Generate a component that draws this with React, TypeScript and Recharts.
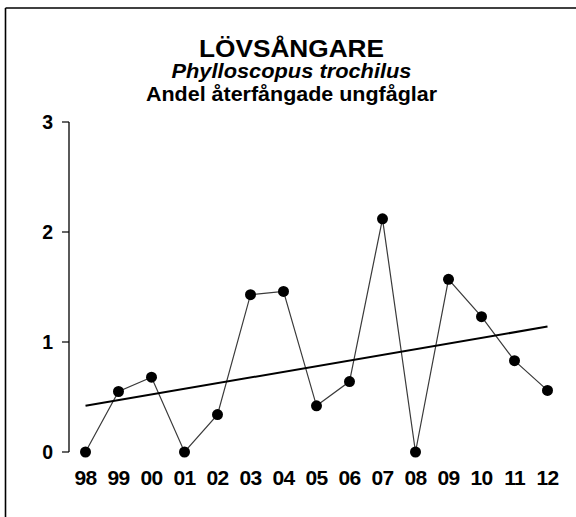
import { LineChart, Line, XAxis, YAxis } from "recharts";

// Andel återfångade ungfåglar per år (1998–2012)
const YEARS = ["98", "99", "00", "01", "02", "03", "04", "05", "06", "07", "08", "09", "10", "11", "12"];
const SHARE = [0, 0.55, 0.68, 0, 0.34, 1.43, 1.46, 0.42, 0.64, 2.12, 0, 1.57, 1.23, 0.83, 0.56];
// trendlinjen: bara start- och slutvärde avlästa
const TREND = [0.42, null, null, null, null, null, null, null, null, null, null, null, null, null, 1.14];
const Y_TICKS = [0, 1, 2, 3];

const data = YEARS.map((year, i) => ({ i, year, share: SHARE[i], trend: TREND[i] }));
const boundaries = YEARS.map((_, i) => i - 0.5).concat([YEARS.length - 0.5]);
const xDomain: [number, number] = [-0.5, YEARS.length - 0.5];

const FONT = "'Liberation Sans', Arial, sans-serif";

export default function App() {
  return (
    <div style={{ position: "absolute", left: 0, top: 0, width: 576, height: 517, background: "#fff", fontFamily: FONT }}>
      <LineChart width={576} height={517} data={data} margin={{ top: 122, right: 12, bottom: 25, left: 0 }}>
        <XAxis
          xAxisId="grid"
          type="number"
          dataKey="i"
          domain={xDomain}
          ticks={boundaries}
          interval={0}
          height={0}
          tickSize={6}
          tickFormatter={() => ""}
          stroke="#000"
          axisLine={{ stroke: "#000", strokeWidth: 1.3 }}
          tickLine={{ stroke: "#000", strokeWidth: 1.2 }}
        />
        <XAxis
          xAxisId="lab"
          type="number"
          dataKey="i"
          domain={xDomain}
          ticks={data.map((d) => d.i)}
          interval={0}
          height={40}
          axisLine={false}
          tickLine={false}
          tickSize={0}
          tickMargin={18}
          tickFormatter={(v: number) => YEARS[v] ?? ""}
          tick={{ fill: "#000", fontSize: 21, fontWeight: 700, fontFamily: FONT, letterSpacing: -0.8 }}
        />
        <YAxis
          type="number"
          domain={[0, 3]}
          ticks={Y_TICKS}
          interval={0}
          width={69}
          tickSize={7}
          tickMargin={9}
          stroke="#000"
          axisLine={{ stroke: "#000", strokeWidth: 1.3 }}
          tickLine={{ stroke: "#000", strokeWidth: 1.2 }}
          tick={{ fill: "#000", fontSize: 19.5, fontWeight: 700, fontFamily: FONT }}
        />
        <Line
          xAxisId="lab"
          dataKey="share"
          stroke="#3a3a3a"
          strokeWidth={1.2}
          dot={{ r: 5.5, fill: "#000", stroke: "none" }}
          isAnimationActive={false}
        />
        <Line
          xAxisId="grid"
          dataKey="trend"
          connectNulls
          stroke="#000"
          strokeWidth={2}
          dot={false}
          isAnimationActive={false}
        />
      </LineChart>
      <svg width={576} height={517} style={{ position: "absolute", left: 0, top: 0, pointerEvents: "none" }}>
        <line x1={5.5} y1={8} x2={576} y2={8} stroke="#000" strokeWidth={1.6} />
        <line x1={5.5} y1={8} x2={5.5} y2={517} stroke="#000" strokeWidth={1.6} />
        <g fill="#000" fontFamily={FONT} fontWeight={700} textAnchor="middle">
          <text x={291.5} y={56.5} fontSize={24} textLength={185} lengthAdjust="spacingAndGlyphs">LÖVSÅNGARE</text>
          <text x={291.5} y={78} fontSize={19.5} fontStyle="italic" textLength={240} lengthAdjust="spacingAndGlyphs">Phylloscopus trochilus</text>
          <text x={291.5} y={100.5} fontSize={19.5} textLength={291} lengthAdjust="spacingAndGlyphs">Andel återfångade ungfåglar</text>
        </g>
      </svg>
    </div>
  );
}
